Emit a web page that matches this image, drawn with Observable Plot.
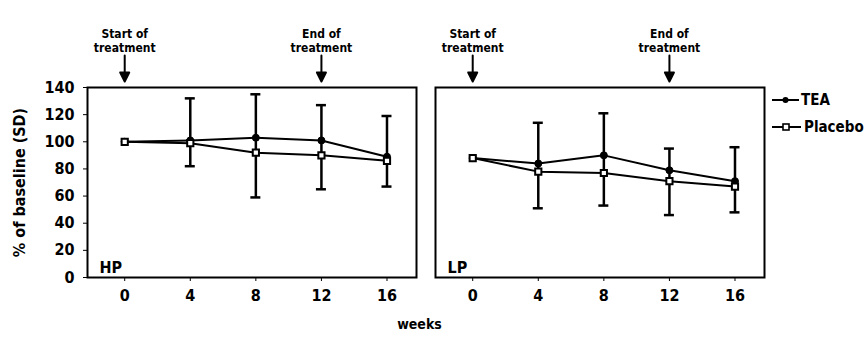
<!DOCTYPE html>
<html>
<head>
<meta charset="utf-8">
<script src="https://cdn.jsdelivr.net/npm/d3@7"></script>
<script src="https://cdn.jsdelivr.net/npm/@observablehq/plot@0.6"></script>
<style>
  html, body { margin: 0; padding: 0; background: #fff; overflow: hidden; }
  #chart { width: 868px; height: 337px; }
</style>
</head>
<body>
<div id="chart"></div>
<script>
// ---- data ----
const weeks = [0, 4, 8, 12, 16];
const panels = ["HP", "LP"];
const seriesNames = ["TEA", "Placebo"];

const hpTea     = [100, 101, 103, 101, 89];
const hpPlacebo = [100, 99, 92, 90, 86];
const hpUpper   = [null, 132, 135, 127, 119];
const hpLower   = [null, 82, 59, 65, 67];

const lpTea     = [88, 84, 90, 79, 71];
const lpPlacebo = [88, 78, 77, 71, 67];
const lpUpper   = [null, 114, 121, 95, 96];
const lpLower   = [null, 51, 53, 46, 48];

const yTicks = [0, 20, 40, 60, 80, 100, 120, 140];
const xTicks = [0, 4, 8, 12, 16];
const yLabel = "% of baseline (SD)";
const xLabel = "weeks";
const annotations = [
  {week: 0, text: "Start of\ntreatment"},
  {week: 12, text: "End of\ntreatment"}
];

// ---- tables built from the arrays ----
const panelData = {
  HP: {TEA: hpTea, Placebo: hpPlacebo, upper: hpUpper, lower: hpLower},
  LP: {TEA: lpTea, Placebo: lpPlacebo, upper: lpUpper, lower: lpLower}
};
const rows = [];
const errors = [];
for (const p of panels) {
  for (const s of seriesNames) {
    weeks.forEach((w, i) => rows.push({panel: p, series: s, week: w, value: panelData[p][s][i]}));
  }
  weeks.forEach((w, i) => {
    if (panelData[p].upper[i] != null)
      errors.push({panel: p, week: w, upper: panelData[p].upper[i], lower: panelData[p].lower[i]});
  });
}
const teaRows = rows.filter(d => d.series === "TEA");
const placeboRows = rows.filter(d => d.series === "Placebo");

const FONT = "'Liberation Sans Narrow', 'DejaVu Sans Condensed', 'Arial Narrow', sans-serif";

const arrowShape = {
  draw(context, l) {
    const h = 9, w = 4.5;
    context.moveTo(0, 0);
    context.lineTo(0, -l + h);
    context.moveTo(-w, -l + h);
    context.lineTo(0, -l);
    context.lineTo(w, -l + h);
    context.closePath();
  }
};

const W = 868, H = 337;
const mL = 86, mR = 103, mT = 87, mB = 60;

const plot = Plot.plot({
  width: W,
  height: H,
  marginLeft: mL,
  marginRight: mR,
  marginTop: mT,
  marginBottom: mB,
  style: {fontFamily: FONT, fontSize: "16px", fontWeight: "bold", background: "#fff", color: "#000", overflow: "visible"},
  fx: {domain: panels, axis: null, paddingInner: 0.054, paddingOuter: 0},
  x: {domain: [-2.27, 17.8], ticks: xTicks, tickSize: 4, tickPadding: 8, label: null},
  y: {domain: [0, 140], ticks: yTicks, tickSize: 4, tickPadding: 9,
      label: yLabel, labelAnchor: "center", labelOffset: 74, labelArrow: false},
  marks: [
    Plot.frame({stroke: "#000", strokeWidth: 2}),
    Plot.ruleX(errors, {fx: "panel", x: "week", y1: "lower", y2: "upper", stroke: "#000", strokeWidth: 2.5}),
    Plot.ruleY(errors, {fx: "panel", x1: "week", x2: "week", y: "upper", insetLeft: -5, insetRight: -5, stroke: "#000", strokeWidth: 2.5}),
    Plot.ruleY(errors, {fx: "panel", x1: "week", x2: "week", y: "lower", insetLeft: -5, insetRight: -5, stroke: "#000", strokeWidth: 2.5}),
    Plot.line(rows, {fx: "panel", x: "week", y: "value", z: "series", stroke: "#000", strokeWidth: 2}),
    Plot.dot(teaRows, {fx: "panel", x: "week", y: "value", r: 3.5, fill: "#000", stroke: "#000", strokeWidth: 1}),
    Plot.dot(placeboRows, {fx: "panel", x: "week", y: "value", symbol: "square", r: 3.5, fill: "#fff", stroke: "#000", strokeWidth: 2}),
    Plot.text(panels, {fx: d => d, text: d => d, frameAnchor: "bottom-left", dx: 12, dy: -5, lineAnchor: "bottom", fontSize: 16, fontWeight: "bold"}),
    Plot.text(annotations, {x: "week", text: "text", frameAnchor: "top", lineAnchor: "bottom", dy: -36, fontSize: 12, lineHeight: 1.15, fontWeight: "bold"}),
    Plot.vector(annotations, {x: "week", frameAnchor: "top", anchor: "end", rotate: 180, length: 26, dy: -6,
      shape: arrowShape, stroke: "#000", fill: "#000", strokeWidth: 2})
  ]
});

document.getElementById("chart").appendChild(plot);

// x-axis title and legend
const svg = d3.select(plot);
svg.append("text")
  .attr("x", (mL + W - mR) / 2 - 6)
  .attr("y", 329)
  .attr("text-anchor", "middle")
  .attr("font-size", 14)
  .attr("font-weight", "bold")
  .text(xLabel);

const legend = svg.append("g").attr("transform", "translate(772,0)");
const legendItems = [
  {name: seriesNames[0], y: 100, filled: true, lineEnd: 27, textX: 29},
  {name: seriesNames[1], y: 127, filled: false, lineEnd: 29, textX: 32}
];
legendItems.forEach(it => {
  legend.append("line").attr("x1", 0).attr("x2", it.lineEnd).attr("y1", it.y).attr("y2", it.y)
    .attr("stroke", "#000").attr("stroke-width", 2);
  if (it.filled) {
    legend.append("circle").attr("cx", 13.5).attr("cy", it.y).attr("r", 3).attr("fill", "#000");
  } else {
    legend.append("rect").attr("x", 11).attr("y", it.y - 3).attr("width", 6).attr("height", 6)
      .attr("fill", "#fff").attr("stroke", "#000").attr("stroke-width", 1.6);
  }
  legend.append("text").attr("x", it.textX).attr("y", it.y).attr("dy", "0.35em")
    .attr("text-anchor", "start")
    .attr("font-size", 15).attr("font-weight", "bold").text(it.name);
});
</script>
</body>
</html>
